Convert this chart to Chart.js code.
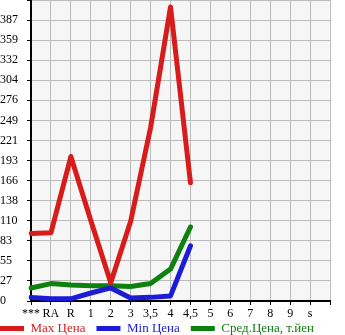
<!DOCTYPE html>
<html lang="ru">
<head>
<meta charset="UTF-8">
<title>Цены</title>
<script src="https://cdn.jsdelivr.net/npm/chart.js"></script>
<style>
  html, body { margin: 0; padding: 0; background: #fff; }
  #wrap { width: 345px; height: 335px; }
</style>
</head>
<body>
<div id="wrap"><canvas id="grafico"></canvas></div>
<script>
  // categories (last one empty: the plot runs one slot past "s")
  const categorias = ['***', 'RA', 'R', '1', '2', '3', '3,5', '4', '4,5', '5', '6', '7', '8', '9', 's', ''];
  const precoMax = [93, 94, 199, 111, 25, 110, 239, 405, 163, null, null, null, null, null, null, null];
  const precoMin = [5, 3, 3, 11, 18, 4, 5, 7, 76, null, null, null, null, null, null, null];
  const precoMedio = [18, 24, 22, 21, 21, 20, 24, 44, 102, null, null, null, null, null, null, null];
  const yTicks = ['0', '27', '55', '83', '110', '138', '166', '193', '221', '249', '276', '304', '332', '359', '387'];
  const passo = 27.643;
  const nomes = ['Max Цена', 'Min Цена', 'Сред.Цена, т.йен'];
  const cores = ['#d81c1c', '#1c1cd8', '#0e800e'];

  const fundo = {
    id: 'fundo',
    afterLayout(chart) {
      // pull the legend to the left edge and a little up
      const lg = chart.legend;
      if (lg) { lg.left -= 11; lg.right -= 11; lg.top -= 8; lg.bottom -= 8; }
    },
    beforeDraw(chart) {
      const a = chart.chartArea;
      const c = chart.ctx;
      c.save();
      c.fillStyle = '#f6f6f6';
      c.fillRect(a.left, a.top, a.right - a.left, a.bottom - a.top);
      c.restore();
    }
  };

  const serie = (label, data, cor) => ({
    label, data,
    borderColor: cor,
    backgroundColor: cor,
    borderWidth: 5,
    tension: 0,
    pointRadius: 0,
    borderCapStyle: 'round',
    borderJoinStyle: 'round',
    spanGaps: false
  });

  new Chart(document.getElementById('grafico'), {
    type: 'line',
    data: {
      labels: categorias,
      datasets: [
        serie(nomes[0], precoMax, cores[0]),
        serie(nomes[1], precoMin, cores[1]),
        serie(nomes[2], precoMedio, cores[2])
      ]
    },
    plugins: [fundo],
    options: {
      responsive: true,
      maintainAspectRatio: false,
      animation: false,
      layout: { padding: { left: 0, right: 0, top: 0, bottom: -18 } },
      scales: {
        x: {
          offset: false,
          afterFit(s) { s.height = 18; s.paddingLeft = 0; s.paddingRight = 15; },
          grid: { color: '#bbbbbb', lineWidth: 1, tickLength: 4, tickColor: '#000' },
          border: { color: '#000', width: 2 },
          ticks: {
            color: '#000',
            font: { family: 'Liberation Serif', size: 12 },
            maxRotation: 0, autoSkip: false, padding: 2
          }
        },
        y: {
          min: 0,
          max: passo * 15,
          afterFit(s) { s.width = 31; s.paddingTop = 0; s.paddingBottom = 0; },
          afterBuildTicks(s) {
            s.ticks = [];
            for (let i = 0; i <= 15; i++) s.ticks.push({ value: i * passo });
          },
          grid: { color: '#bbbbbb', lineWidth: 1, tickLength: 4, tickColor: '#000' },
          border: { color: '#000', width: 2 },
          ticks: {
            color: '#000',
            font: { family: 'Liberation Serif', size: 12 },
            crossAlign: 'far',
            autoSkip: false,
            padding: 2,
            callback: (v, i) => yTicks[i] ?? ''
          }
        }
      },
      plugins: {
        tooltip: { enabled: false },
        legend: {
          position: 'bottom',
          align: 'start',
          labels: {
            boxWidth: 24,
            boxHeight: 5,
            padding: 11,
            useBorderRadius: true,
            borderRadius: 2.5,
            font: { family: 'Liberation Serif', size: 13 },
            generateLabels: (chart) => chart.data.datasets.map((d, i) => ({
              text: d.label,
              fillStyle: cores[i],
              strokeStyle: cores[i],
              lineWidth: 0,
              fontColor: cores[i],
              datasetIndex: i
            }))
          }
        }
      }
    }
  });
</script>
</body>
</html>
